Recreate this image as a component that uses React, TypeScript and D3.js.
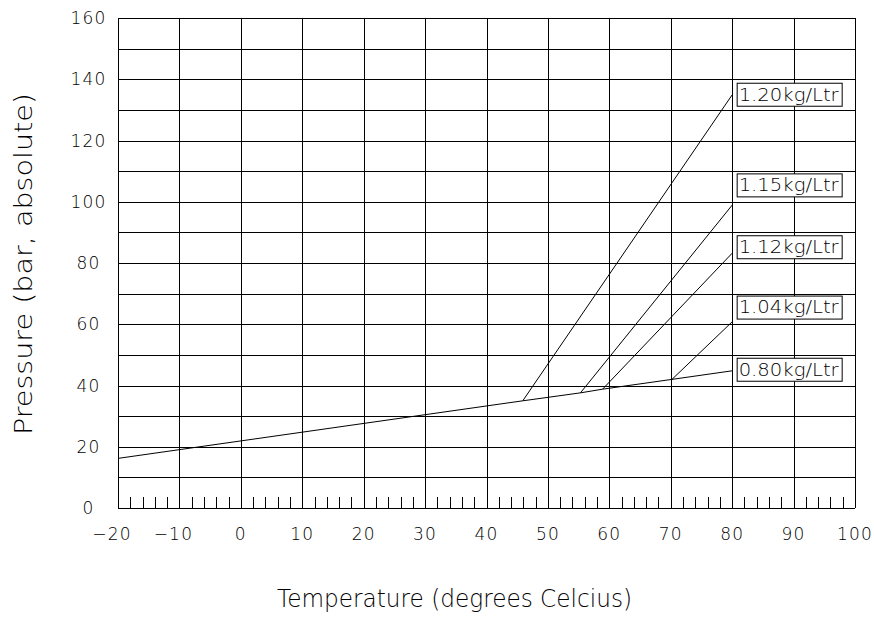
import React from "react";
import * as d3 from "d3";

const xTickValues = [-20, -10, 0, 10, 20, 30, 40, 50, 60, 70, 80, 90, 100];
const yTickValues = [0, 20, 40, 60, 80, 100, 120, 140, 160];
const yGridValues = [0, 10, 20, 30, 40, 50, 60, 70, 80, 90, 100, 110, 120, 130, 140, 150, 160];
const minorTickValues = [
  -18, -16, -14, -12, -8, -6, -4, -2, 2, 4, 6, 8, 12, 14, 16, 18, 22, 24, 26, 28,
  32, 34, 36, 38, 42, 44, 46, 48, 52, 54, 56, 58, 62, 64, 66, 68, 72, 74, 76, 78,
  82, 84, 86, 88, 92, 94, 96, 98,
];

// base line (0.80 kg/Ltr)
const baseT = [-20, 45.9, 55.3, 58.9, 70.2, 80];
const baseP = [16.2, 35.0, 37.6, 38.8, 42.0, 44.8];

// branches
const branchNames = ["1.20kg/Ltr", "1.15kg/Ltr", "1.12kg/Ltr", "1.04kg/Ltr"];
const branchStartT = [45.9, 55.3, 58.9, 70.2];
const branchStartP = [35.0, 37.6, 38.8, 42.0];
const branchEndT = [80, 80, 80, 80];
const branchEndP = [134.9, 98.9, 83.2, 60.8];

// labels
const labelNames = ["1.20kg/Ltr", "1.15kg/Ltr", "1.12kg/Ltr", "1.04kg/Ltr", "0.80kg/Ltr"];
const labelT = [80, 80, 80, 80, 80];
const labelTopP = [138.7, 109.1, 88.9, 69.2, 48.9];

const W = 874;
const H = 619;
const left = 118;
const right = 855;
const top = 18;
const bottom = 508;

export default function App() {
  const x = d3.scaleLinear().domain([-20, 100]).range([left, right]);
  const y = d3.scaleLinear().domain([0, 160]).range([bottom, top]);
  const line = d3
    .line<[number, number]>()
    .x((d) => x(d[0]))
    .y((d) => y(d[1]));
  const basePts: [number, number][] = baseT.map((t, i) => [t, baseP[i]]);
  const font = "'DejaVu Sans', sans-serif";
  const fw = 300;

  return (
    <svg
      width={W}
      height={H}
      style={{ position: "absolute", left: 0, top: 0, background: "#fff" }}
      fontFamily={font}
    >
      <rect x={0} y={0} width={W} height={H} fill="#fff" />
      <g shapeRendering="crispEdges" stroke="#000" strokeWidth={1}>
        {yGridValues.map((v) => (
          <line key={"h" + v} x1={left} x2={right} y1={Math.round(y(v)) + 0.5} y2={Math.round(y(v)) + 0.5} />
        ))}
        {xTickValues.map((v) => (
          <line key={"v" + v} x1={Math.round(x(v)) + 0.5} x2={Math.round(x(v)) + 0.5} y1={top} y2={bottom} />
        ))}
        {minorTickValues.map((v) => (
          <line key={"m" + v} x1={Math.round(x(v)) + 0.5} x2={Math.round(x(v)) + 0.5} y1={bottom - 11} y2={bottom} />
        ))}
      </g>
      <g fill="none" stroke="#000" strokeWidth={1}>
        <path d={line(basePts) || ""} />
        {branchNames.map((n, i) => (
          <path
            key={n}
            d={
              line([
                [branchStartT[i], branchStartP[i]],
                [branchEndT[i], branchEndP[i]],
              ]) || ""
            }
          />
        ))}
      </g>
      {labelNames.map((n, i) => {
        const bx = x(labelT[i]) + 5;
        const by = y(labelTopP[i]);
        return (
          <g key={n}>
            <rect x={bx} y={by} width={105} height={23} fill="#fff" stroke="#000" strokeWidth={1} />
            <text
              x={bx + 1.5}
              y={by + 17.4}
              fontSize={17}
              fontWeight={fw}
              textLength={100}
              lengthAdjust="spacingAndGlyphs"
              fill="#000"
            >
              {n}
            </text>
          </g>
        );
      })}
      {yTickValues.map((v) => (
        <text
          key={"yl" + v}
          x={88.5}
          y={y(v)}
          dy="0.36em"
          textAnchor="middle"
          fontSize={17}
          fontWeight={fw}
          letterSpacing={1.2}
          fill="#000"
        >
          {v}
        </text>
      ))}
      {xTickValues.map((v) => (
        <text
          key={"xl" + v}
          x={x(v) + (v < 0 ? -6 : 0)}
          y={534}
          dy="0.36em"
          textAnchor="middle"
          fontSize={17}
          fontWeight={fw}
          letterSpacing={1.2}
          fill="#000"
        >
          {v < 0 ? "\u2212" + Math.abs(v) : String(v)}
        </text>
      ))}
      <text
        x={277}
        y={606.5}
        fontSize={25}
        fontWeight={fw}
        textLength={355}
        lengthAdjust="spacingAndGlyphs"
        fill="#000"
      >
        Temperature (degrees Celcius)
      </text>
      <text
        transform={`translate(32, 435) rotate(-90)`}
        x={0}
        y={0}
        fontSize={25}
        fontWeight={fw}
        textLength={342}
        lengthAdjust="spacingAndGlyphs"
        fill="#000"
      >
        Pressure (bar, absolute)
      </text>
    </svg>
  );
}
